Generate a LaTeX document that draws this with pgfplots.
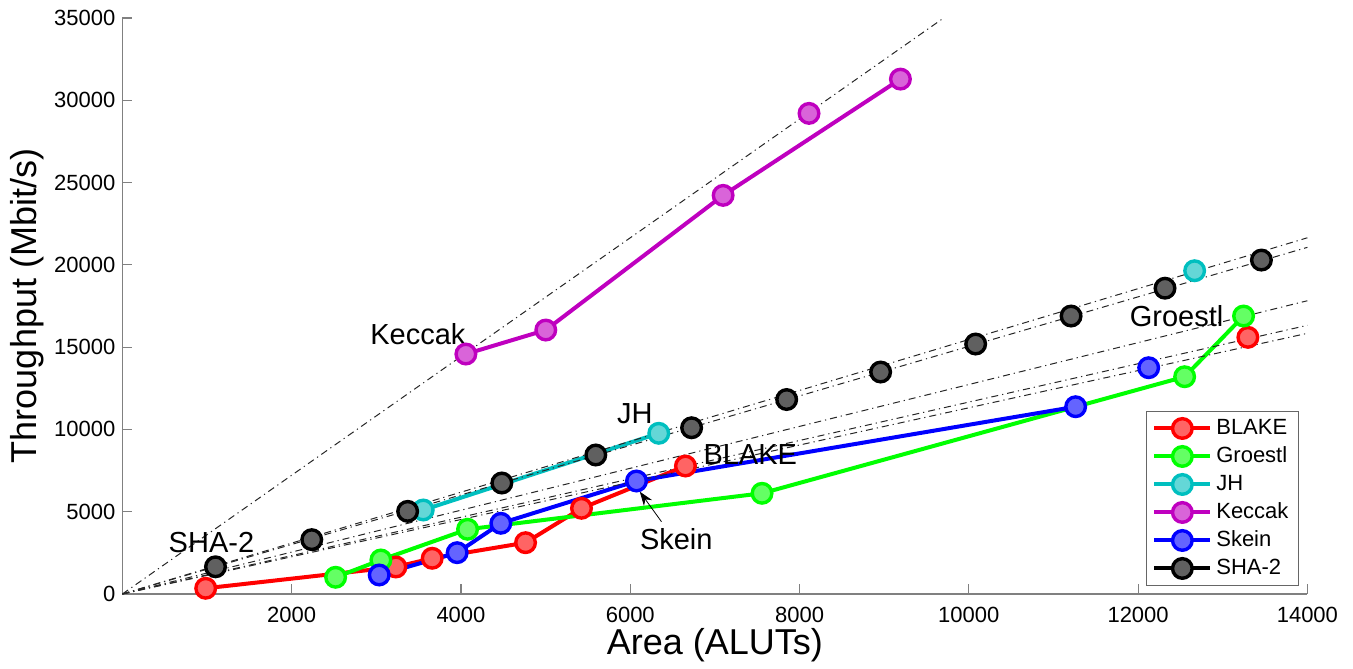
\documentclass[border=0pt]{standalone}
\usepackage{pgfplots}
\pgfplotsset{compat=1.18}
\usepackage{fontspec}
\setmainfont{Liberation Sans}
\usetikzlibrary{arrows.meta}
\definecolor{cB}{RGB}{255,0,0} \definecolor{fB}{RGB}{255,100,100}
\definecolor{cG}{RGB}{0,255,0} \definecolor{fG}{RGB}{100,255,100}
\definecolor{cJ}{RGB}{0,191,191} \definecolor{fJ}{RGB}{100,215,215}
\definecolor{cK}{RGB}{191,0,191} \definecolor{fK}{RGB}{217,100,217}
\definecolor{cS}{RGB}{0,0,255} \definecolor{fS}{RGB}{100,100,255}
\definecolor{cH}{RGB}{0,0,0} \definecolor{fH}{RGB}{96,96,96}
\pgfplotsset{
  ser/.style n args={2}{color=#1, line width=2pt, mark=*, mark size=4.9pt,
     mark options={draw=#1, fill=#2, line width=1.7pt, solid}},
  myleg/.style={legend image code/.code={
     \draw[##1, mark=none] (0pt,0pt) -- (28pt,0pt);
     \draw[##1] plot coordinates {(14pt,0pt)};}},
  refl/.style={black!85, line width=0.5pt, dash pattern=on 3.5pt off 2pt on 0.6pt off 2pt, forget plot, mark=none},
}
\begin{document}
\begin{tikzpicture}
\begin{axis}[
  scale only axis, width=592.5pt, height=288pt,
  xmin=0, xmax=14000, ymin=0, ymax=35000,
  axis x line*=bottom, axis y line*=left,
  axis line style={-, draw=black!50, line width=0.6pt},
  tick style={draw=black!50, line width=0.6pt},
  tick align=inside, major tick length=5pt,
  xtick={2000,4000,...,14000}, ytick={0,5000,...,35000},
  scaled ticks=false,
  /pgf/number format/1000 sep={},
  /pgf/number format/assume math mode=true,
  ticklabel style={font=\fontsize{11}{13}\selectfont},
  xticklabel style={yshift=-3pt},
  xlabel={Area (ALUTs)}, ylabel={Throughput (Mbit/s)},
  label style={font=\fontsize{18}{21}\selectfont},
  xlabel style={at={(axis description cs:0.5,-0.0885)}, anchor=center},
  ylabel style={at={(axis description cs:-0.0805,0.5)}, anchor=center},
  clip=false,
  myleg,
  legend cell align=left,
  legend style={at={(rel axis cs:0.9929,0.0139)}, anchor=south east,
    draw=black!60, line width=0.5pt, fill=white,
    font=\fontsize{11}{13}\selectfont,
    inner xsep=3pt, inner ysep=1.5pt, row sep=0pt,
    nodes={inner sep=2pt, text height=8pt, text depth=2pt}},
]
\path (rel axis cs:-0.1033,-0.1302) rectangle (rel axis cs:1.0385,1.03125);
% BLAKE
\addplot[ser={cB}{fB}] coordinates {(984,346) (3231,1640) (3660,2169) (4763,3116) (5424,5206) (6652,7776)};
\addlegendentry{BLAKE}
\addplot[ser={cB}{fB}, only marks, forget plot] coordinates {(13297,15594)};
% Groestl
\addplot[ser={cG}{fG}] coordinates {(2519,1015) (3054,2066) (4078,3931) (7557,6117) (12550,13201) (13246,16889)};
\addlegendentry{Groestl}
% JH
\addplot[ser={cJ}{fJ}] coordinates {(3554,5103) (6337,9763)};
\addlegendentry{JH}
\addplot[ser={cJ}{fJ}, only marks, forget plot] coordinates {(12668,19641)};
% Keccak
\addplot[ser={cK}{fK}] coordinates {(4058,14580) (5002,16038) (7097,24221) (9192,31286)};
\addlegendentry{Keccak}
\addplot[ser={cK}{fK}, only marks, forget plot] coordinates {(8112,29203)};
% Skein
\addplot[ser={cS}{fS}] coordinates {(3034,1154) (3955,2509) (4471,4295) (6074,6865) (11262,11378)};
\addlegendentry{Skein}
\addplot[ser={cS}{fS}, only marks, forget plot] coordinates {(12125,13748)};
% SHA-2
\addplot[ser={cH}{fH}, only marks, myleg] coordinates {(1100,1650) (2237,3300) (3370,5020) (4483,6743) (5593,8445) (6725,10100) (7848,11815) (8958,13487) (10081,15188) (11208,16889) (12318,18580) (13457,20290)};
\addlegendentry{SHA-2}
% reference lines through origin
\addplot[refl] coordinates {(0,0) (9703,35000)};
\addplot[refl] coordinates {(0,0) (14000,21645)};
\addplot[refl] coordinates {(0,0) (14000,21063)};
\addplot[refl] coordinates {(0,0) (14000,17818)};
\addplot[refl] coordinates {(0,0) (14000,16323)};
\addplot[refl] coordinates {(0,0) (14000,15838)};
% annotations
\node[font=\fontsize{14.5}{17}\selectfont, inner sep=0pt] at (axis cs:1052,3129) {SHA-2};
\node[font=\fontsize{14.5}{17}\selectfont, inner sep=0pt] at (axis cs:3491,15795) {Keccak};
\node[font=\fontsize{14.5}{17}\selectfont, inner sep=0pt] at (axis cs:6054,10935) {JH};
\node[font=\fontsize{14.5}{17}\selectfont, inner sep=0pt] at (axis cs:7418,8444) {BLAKE};
\node[font=\fontsize{14.5}{17}\selectfont, inner sep=0pt] at (axis cs:6544,3341) {Skein};
\node[font=\fontsize{14.5}{17}\selectfont, inner sep=0pt] at (axis cs:12455,16889) {Groestl};
\draw[-{Stealth[length=7pt,width=5pt]}, line width=0.4pt, black] (axis cs:6369,4392) -- (axis cs:6113,6215);
\end{axis}
\end{tikzpicture}
\end{document}
